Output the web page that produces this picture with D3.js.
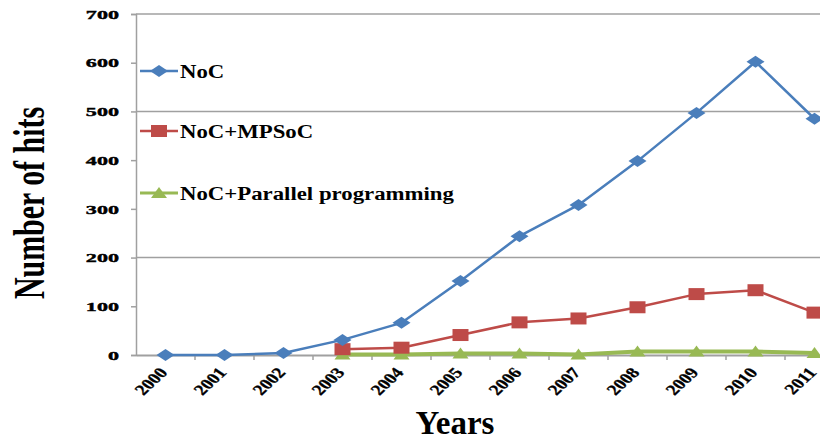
<!DOCTYPE html>
<html><head><meta charset="utf-8">
<script src="https://cdn.jsdelivr.net/npm/d3@7"></script>
<style>body{margin:0;background:#fff;overflow:hidden}svg{display:block}</style>
</head><body>
<svg id="c" width="820" height="436"></svg>
<script>
const years = ["2000","2001","2002","2003","2004","2005","2006","2007","2008","2009","2010","2011"];
const noc = [0,0,4,31,66,152,244,308,398,497,602,485];
const mpsoc = [null,null,null,12,15,41,67,75,98,125,133,87];
const parallel = [null,null,null,1,1,3,3,1,7,7,7,4];
const seriesNames = ["NoC","NoC+MPSoC","NoC+Parallel programming"];
const yTicks = [0,100,200,300,400,500,600,700];
const gridValues = [200,500,700];

const svg = d3.select("#c");
const x = d3.scaleBand().domain(years).range([136, 844]);
const y = d3.scaleLinear().domain([0,700]).range([355, 14]);
const serif = "'Liberation Serif','Times New Roman',serif";

// gridlines
svg.append("g").selectAll("line").data(gridValues).join("line")
  .attr("x1", 136).attr("x2", 844).attr("y1", d=>y(d)).attr("y2", d=>y(d))
  .attr("stroke", "#a0a0a0").attr("stroke-width", 1.5);

// y axis
const ya = svg.append("g").attr("transform","translate(136,0)")
  .call(d3.axisLeft(y).tickValues(yTicks).tickSize(5).tickPadding(0).tickFormat(d3.format("d")));
ya.select(".domain").attr("stroke","#a0a0a0").attr("stroke-width",1.5);
ya.selectAll(".tick line").attr("stroke","#a0a0a0").attr("stroke-width",1.5);
ya.selectAll(".tick text").attr("font-family",serif).attr("font-weight","bold")
  .attr("font-size",13).attr("fill","#000").attr("stroke","#000").attr("stroke-width",0.4)
  .attr("text-anchor","end").attr("x",0)
  .attr("transform","translate(-17,0) scale(1.7,1)");

// x axis
const xa = svg.append("g").attr("transform","translate(0,355)")
  .call(d3.axisBottom(x).tickSize(0).tickFormat(d=>d));
xa.select(".domain").attr("stroke","#a0a0a0").attr("stroke-width",2);
xa.selectAll(".tick text").attr("font-family",serif).attr("font-weight","bold")
  .attr("font-size",15).attr("fill","#000").attr("text-anchor","end")
  .attr("stroke","#000").attr("stroke-width",0.3)
  .attr("dy",0).attr("y",0)
  .attr("transform","translate(3,18) scale(1.3,1) rotate(-50)");
// boundary tick marks
svg.append("g").selectAll("line").data(years.slice(1)).join("line")
  .attr("x1", d=>x(d)).attr("x2", d=>x(d)).attr("y1",355).attr("y2",360)
  .attr("stroke","#a0a0a0").attr("stroke-width",1.5);

const cx = d => x(d) + x.bandwidth()/2;
const colors = ["#4a7ebb","#be4b48","#98b954"];
const data = [noc, mpsoc, parallel];
const line = d3.line().defined(d=>d.v!=null).x(d=>cx(d.y)).y(d=>y(d.v));

function marker(g, type, color){
  if(type===0){
    g.append("path").attr("d","M0,-6L9,0L0,6L-9,0Z").attr("fill",color);
  } else if(type===1){
    g.append("rect").attr("x",-8).attr("y",-6).attr("width",16).attr("height",12).attr("fill",color);
  } else {
    g.append("path").attr("d","M0,-6L8,5L-8,5Z").attr("fill",color);
  }
}

[2,1,0].forEach(i=>{
  const pts = years.map((yr,j)=>({y:yr, v:data[i][j]}));
  svg.append("path").datum(pts).attr("d",line).attr("fill","none")
    .attr("stroke",colors[i]).attr("stroke-width", i===2?4:2.5).attr("stroke-linejoin","round");
  svg.append("g").selectAll("g").data(pts.filter(d=>d.v!=null)).join("g")
    .attr("transform",d=>`translate(${cx(d.y)},${y(d.v)})`)
    .each(function(){ marker(d3.select(this), i, colors[i]); });
});

// legend
const legY = [71,131,193];
seriesNames.forEach((n,i)=>{
  const g = svg.append("g").attr("transform",`translate(140,${legY[i]})`);
  g.append("line").attr("x1",0).attr("x2",38).attr("stroke",colors[i]).attr("stroke-width",i===2?3:2.5);
  const m = g.append("g").attr("transform","translate(19,0)");
  marker(m, i, colors[i]);
  g.append("text").attr("font-family",serif).attr("font-weight","bold").attr("font-size",19)
    .attr("fill","#000").attr("transform","translate(40,7) scale(1.2,1)").text(n);
});

// axis titles
svg.append("text").attr("font-family",serif).attr("font-weight","bold").attr("font-size",44)
  .attr("text-anchor","middle").attr("fill","#000")
  .attr("transform","translate(44,203) rotate(-90) scale(0.68,1)").text("Number of hits");
svg.append("text").attr("font-family",serif).attr("font-weight","bold").attr("font-size",33)
  .attr("text-anchor","middle").attr("fill","#000")
  .attr("transform","translate(455,434)").text("Years");
</script>
</body></html>
